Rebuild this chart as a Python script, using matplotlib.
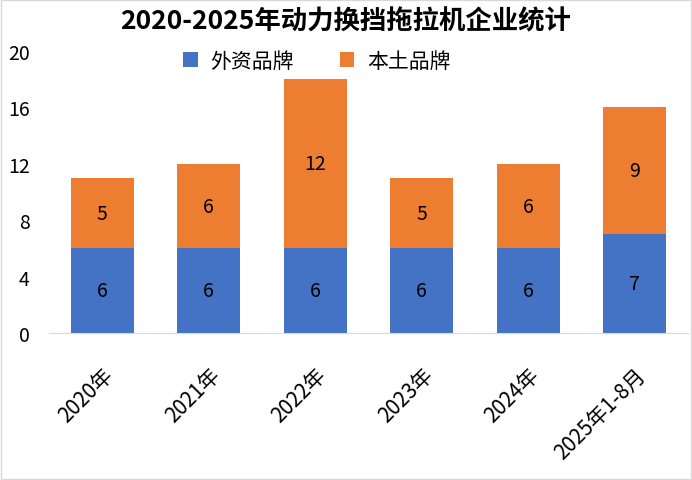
import matplotlib.pyplot as plt
from matplotlib.patches import Rectangle

plt.rcParams['font.family'] = ['Noto Sans CJK SC', 'DejaVu Sans']

categories = ['2020年', '2021年', '2022年', '2023年', '2024年', '2025年1-8月']
foreign = [6, 6, 6, 6, 6, 7]
domestic = [5, 6, 12, 5, 6, 9]

blue = '#4472C4'
orange = '#ED7D31'

fig = plt.figure(figsize=(6.92, 4.81), dpi=100)
ax = fig.add_axes([0.0708, 0.3056, 0.9232, 0.5864])

x = range(len(categories))
b1 = ax.bar(x, foreign, width=0.59, color=blue, label='外资品牌')
b2 = ax.bar(x, domestic, width=0.59, bottom=foreign, color=orange, label='本土品牌')

for i in x:
    ax.text(i, foreign[i] / 2, str(foreign[i]), ha='center', va='center', fontsize=14)
    ax.text(i, foreign[i] + domestic[i] / 2, str(domestic[i]), ha='center', va='center', fontsize=14)

ax.set_xlim(-0.5, 5.5)
ax.set_ylim(0, 20)
ax.set_yticks([0, 4, 8, 12, 16, 20])
for s in ['top', 'right', 'left']:
    ax.spines[s].set_visible(False)
ax.spines['bottom'].set_color('#d9d9d9')
ax.tick_params(axis='y', length=0, labelsize=14, pad=14)
ax.tick_params(axis='x', length=0, labelsize=15, pad=22)
ax.set_xticks(list(x))
ax.set_xticklabels(categories, rotation=45, ha='right', rotation_mode='anchor')

fig.text(0.5, 0.954, '2020-2025年动力换挡拖拉机企业统计', ha='center', va='center',
         fontsize=19, fontweight='bold')
fig.legend(handles=[b1, b2], loc='center', bbox_to_anchor=(0.458, 0.871), ncol=2,
           frameon=False, fontsize=15, handlelength=0.7, handleheight=0.7,
           columnspacing=2.2, handletextpad=0.6)

fig.patches.append(Rectangle((0.002, 0.002), 0.996, 0.996, transform=fig.transFigure,
                             fill=False, edgecolor='#d9d9d9', linewidth=1))

fig.savefig('out.png', dpi=100)
